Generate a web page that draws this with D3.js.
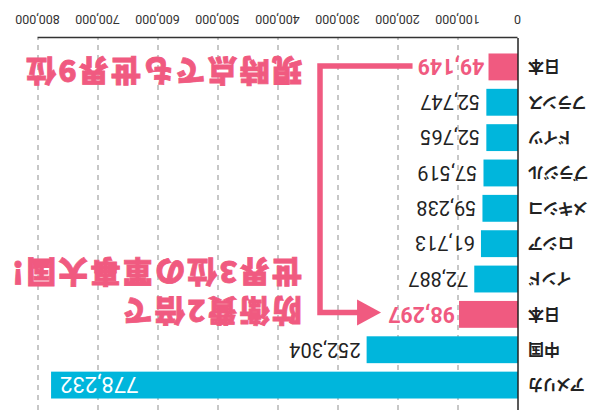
<!DOCTYPE html>
<html>
<head>
<meta charset="utf-8">
<script src="https://cdn.jsdelivr.net/npm/d3@7"></script>
<style>
  html, body { margin: 0; padding: 0; background: #fff; }
  svg { display: block; font-family: "Noto Sans CJK JP", "Noto Sans", sans-serif; }
  .country { font-feature-settings: "palt"; }
</style>
</head>
<body>
<div id="chart"></div>
<script>
// countries top-to-bottom (before the picture is turned upside down)
const countries = ["アメリカ", "中国", "日本", "インド", "ロシア", "メキシコ", "ブラジル", "ドイツ", "フランス", "日本"];
const spending = [778232, 252304, 98297, 72887, 61713, 59238, 57519, 52765, 52747, 49149];
const highlight = [false, false, true, false, false, false, false, false, false, true];
const tickValues = [0, 100000, 200000, 300000, 400000, 500000, 600000, 700000, 800000];
const noteTop = ["防衛費2倍で", "世界3位の軍事大国!"];
const noteBottom = "現時点でも世界9位";

const W = 596, H = 410;
const blue = "#00b6dc", pink = "#f05a80";
const fmt = d3.format(",");

const data = countries.map((c, i) => ({ key: i, name: c, value: spending[i], hi: highlight[i] }));

const svg = d3.select("#chart").append("svg")
  .attr("width", W)
  .attr("height", H);

// the whole chart is drawn normally, then turned 180 degrees
const g = svg.append("g").attr("transform", `rotate(180 ${W / 2} ${H / 2})`);

const x = d3.scaleLinear().domain([0, 800000]).range([78, 558]);
const y = d3.scaleBand().domain(data.map(d => d.key)).range([3, 365]).padding(0.24);
const axisY = 372;

// dashed grid
g.append("g").selectAll("line")
  .data(tickValues.slice(1))
  .join("line")
  .attr("x1", d => x(d)).attr("x2", d => x(d))
  .attr("y1", 0).attr("y2", axisY)
  .attr("stroke", "#aaa")
  .attr("stroke-width", 1.3)
  .attr("stroke-dasharray", "5,5");

// axis
const axis = g.append("g")
  .attr("transform", `translate(0,${axisY})`)
  .call(d3.axisBottom(x).tickValues(tickValues).tickFormat(fmt).tickSize(0).tickSizeOuter(0).tickPadding(14));
axis.select(".domain").attr("stroke", "#333").attr("stroke-width", 1.5);
axis.selectAll("text")
  .attr("fill", "#333")
  .style("font-family", "Roboto, sans-serif")
  .style("font-size", "12.5px");

// bars
g.append("g").selectAll("rect")
  .data(data)
  .join("rect")
  .attr("x", x(0))
  .attr("y", d => y(d.key))
  .attr("width", d => x(d.value) - x(0))
  .attr("height", y.bandwidth())
  .attr("fill", d => d.hi ? pink : blue);

// zero line
g.append("line")
  .attr("x1", x(0)).attr("x2", x(0))
  .attr("y1", 0).attr("y2", axisY)
  .attr("stroke", "#222")
  .attr("stroke-width", 1.5);

// country labels
g.append("g").selectAll("text")
  .data(data)
  .join("text")
  .attr("class", "country")
  .attr("x", x(0) - 10)
  .attr("y", d => y(d.key) + y.bandwidth() / 2)
  .attr("dy", "0.36em")
  .attr("text-anchor", "end")
  .attr("font-size", 16)
  .attr("font-weight", 700)
  .attr("fill", "#222")
  .text(d => d.name);

// value labels
const vals = g.append("g").selectAll("text")
  .data(data)
  .join("text")
  .attr("y", d => y(d.key) + y.bandwidth() / 2)
  .attr("dy", "0.36em")
  .style("font-family", "Roboto, sans-serif")
  .attr("font-size", d => d.hi ? 21.5 : 20)
  .attr("font-weight", d => d.hi ? 700 : 400)
  .attr("fill", d => d.hi ? pink : "#222")
  .attr("x", d => x(d.value) + (d.hi ? 4 : 6))
  .attr("text-anchor", "start")
  .text(d => fmt(d.value));

// the biggest bar carries its label inside
vals.filter(d => d.key === 0)
  .attr("x", d => x(d.value) - 9)
  .attr("text-anchor", "end")
  .attr("fill", "#fff")
  .attr("font-size", 22);

// annotation connector
const jp2 = data[2], jp9 = data[9];
const lineX = x(330000);
const yTop = y(jp2.key) + y.bandwidth() / 2 + 2;
const yBot = y(jp9.key) + y.bandwidth() / 2 + 1;
const lab9 = vals.filter(d => d.key === 9).node();
const lab2 = vals.filter(d => d.key === 2).node();
const end9 = x(jp9.value) + 4 + lab9.getComputedTextLength();
const end2 = x(jp2.value) + 4 + lab2.getComputedTextLength();
const tipX = end2 + 7;

g.append("path")
  .attr("d", `M${end9 + 5},${yBot}H${lineX}V${yTop}H${tipX + 22}`)
  .attr("fill", "none")
  .attr("stroke", pink)
  .attr("stroke-width", 5.5);

g.append("path")
  .attr("d", `M${tipX},${yTop}L${tipX + 24},${yTop - 13}L${tipX + 24},${yTop + 13}Z`)
  .attr("fill", pink);

// annotation text
const noteStyle = sel => sel
  .attr("font-size", 30)
  .attr("font-weight", 900)
  .attr("letter-spacing", 2.2)
  .attr("fill", pink)
  .attr("stroke", pink)
  .attr("stroke-width", 0.8)
  .attr("dy", "0.36em");

g.append("g").selectAll("text")
  .data(noteTop)
  .join("text")
  .attr("x", lineX + 18)
  .attr("y", (d, i) => yTop + 2 + i * 38.5)
  .call(noteStyle)
  .text(d => d);

g.append("text")
  .attr("x", lineX + 18)
  .attr("y", yBot - 5)
  .call(noteStyle)
  .text(noteBottom);
</script>
</body>
</html>
